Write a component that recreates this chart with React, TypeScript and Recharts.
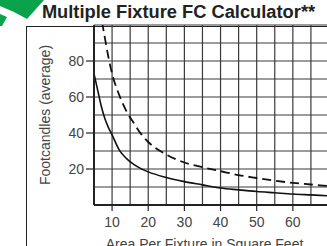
import React from "react";
import { LineChart, Line, XAxis, YAxis, CartesianGrid, Label } from "recharts";

const areas = [5, 6, 7, 8, 9, 10, 12, 14, 16, 18, 20, 25, 30, 35, 40, 45, 50, 55, 60, 65, 70];
const singleFc = [73, 64, 55, 48, 43, 39, 30.5, 25.8, 22.6, 20.2, 18.4, 15.3, 13, 11.2, 9.4, 8.4, 7.5, 6.8, 6.1, 5.6, 5.1];
const doubleFc = [148, 123, 105, 93, 82, 73, 61, 52, 45.5, 39.5, 35, 28, 23.6, 21, 18.8, 16.6, 15, 13.5, 12.3, 11.4, 10.5];

const xLabels = [10, 20, 30, 40, 50, 60];
const yLabels = [20, 40, 60, 80];
const xGrid = [5, 10, 15, 20, 25, 30, 35, 40, 45, 50, 55, 60, 65, 70];
const yGrid = [0, 10, 20, 30, 40, 50, 60, 70, 80, 90, 100];

const data = areas.map((area, i) => ({
  area,
  single: singleFc[i],
  double: doubleFc[i],
}));

const font = "'Liberation Sans', Arial, sans-serif";

// tick label + short tick mark, only on the labelled values
const XTick = (props: any) => {
  const { x, y, payload } = props;
  if (!xLabels.includes(payload.value)) return <g />;
  return (
    <g>
      <line x1={x} x2={x} y1={y - 12} y2={y - 6} stroke="#222" strokeWidth={1.2} />
      <text x={x} y={y} dy="0.71em" textAnchor="middle" fontFamily={font} fontSize={14} fill="#444">
        {payload.value}
      </text>
    </g>
  );
};

const YTick = (props: any) => {
  const { x, y, payload } = props;
  if (!yLabels.includes(payload.value)) return <g />;
  return (
    <g>
      <line x1={x + 10} x2={x + 2} y1={y} y2={y} stroke="#222" strokeWidth={1.2} />
      <text x={x} y={y} dy="0.355em" textAnchor="end" fontFamily={font} fontSize={14} fill="#444">
        {payload.value}
      </text>
    </g>
  );
};

const App: React.FC = () => {
  return (
    <div style={{ position: "absolute", left: 0, top: 0, width: 327, height: 246, overflow: "hidden", background: "#fff" }}>
      <svg width={50} height={30} style={{ position: "absolute", left: 0, top: 0 }}>
        <polygon points="0,0 44,0 27,19 14,12 0,6" fill="#0aa24b" />
        <polygon points="0,14 7,17 2,26 0,26" fill="#0aa24b" />
      </svg>
      <div
        style={{
          position: "absolute",
          left: 26,
          top: 26,
          width: 320,
          height: 240,
          borderLeft: "1px solid #222",
          borderTop: "1px solid #222",
        }}
      />
      <div
        style={{
          position: "absolute",
          left: 0,
          top: 3,
          width: 357,
          textAlign: "center",
          fontFamily: font,
          fontWeight: "bold",
          fontSize: 18.3,
          lineHeight: "18px",
          color: "#222",
          whiteSpace: "nowrap",
        }}
      >
        Multiple Fixture FC Calculator**
      </div>
      <div style={{ position: "absolute", left: 0, top: 0 }}>
        <LineChart width={340} height={260} data={data} margin={{ top: 25, right: 11, left: 0, bottom: 25 }}>
          <CartesianGrid stroke="#3a3a3a" strokeWidth={1.2} />
          <XAxis
            type="number"
            dataKey="area"
            domain={[5, 70]}
            ticks={xGrid}
            interval={0}
            allowDataOverflow
            height={30}
            tickSize={5}
            tickMargin={7}
            tick={<XTick />}
            axisLine={{ stroke: "#222", strokeWidth: 2 }}
            tickLine={{ stroke: "transparent" }}
          >
            <Label
              value="Area Per Fixture in Square Feet"
              position="bottom"
              offset={4}
              dx={-7}
              style={{ fontFamily: font, fontSize: 14, fill: "#444" }}
            />
          </XAxis>
          <YAxis
            type="number"
            domain={[0, 100]}
            ticks={yGrid}
            interval={0}
            allowDataOverflow
            width={94}
            tickSize={7}
            tickMargin={3}
            tick={<YTick />}
            axisLine={{ stroke: "#222", strokeWidth: 2 }}
            tickLine={{ stroke: "transparent" }}
          >
            <Label
              value="Footcandles (average)"
              angle={-90}
              position="insideLeft"
              offset={45}
              style={{ fontFamily: font, fontSize: 14, fill: "#444", textAnchor: "middle" }}
            />
          </YAxis>
          <Line type="monotone" dataKey="double" stroke="#111" strokeWidth={1.8} strokeDasharray="9 5" dot={false} isAnimationActive={false} />
          <Line type="monotone" dataKey="single" stroke="#111" strokeWidth={1.6} dot={false} isAnimationActive={false} />
        </LineChart>
      </div>
    </div>
  );
};

export default App;
